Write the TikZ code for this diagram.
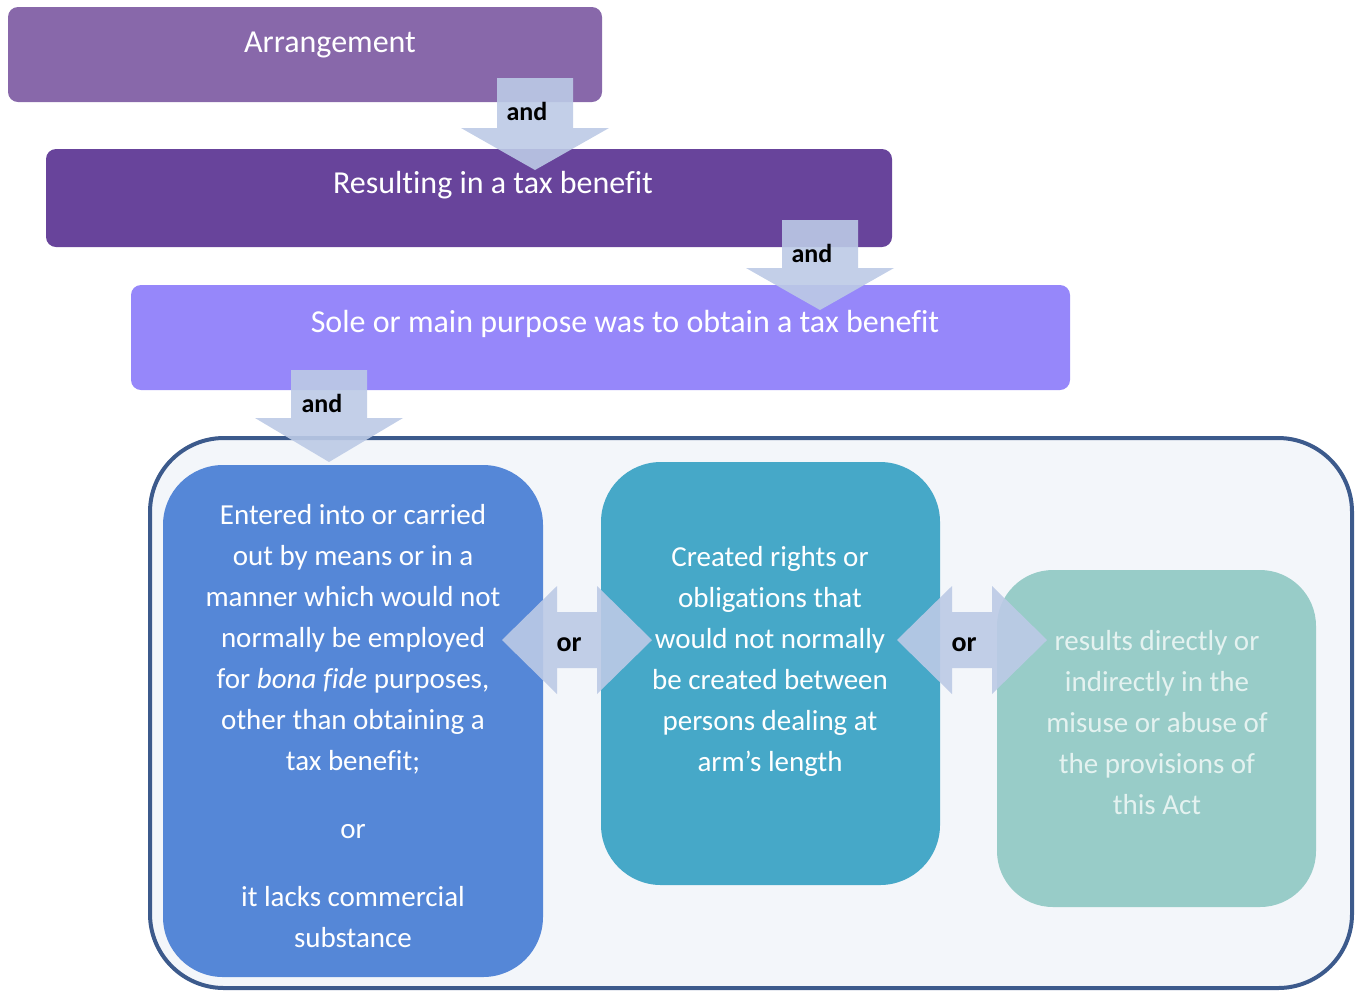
\documentclass[tikz,border=0pt]{standalone}
\usepackage{fontspec}
\setmainfont{Carlito}[Ligatures=CommonOff]

\definecolor{arrangecol}{RGB}{136,104,170}
\definecolor{resultcol}{RGB}{104,68,155}
\definecolor{solecol}{RGB}{150,135,250}
\definecolor{bluecol}{RGB}{85,135,215}
\definecolor{tealcol}{RGB}{70,168,200}
\definecolor{paletealcol}{RGB}{152,204,200}
\definecolor{arrowcol}{RGB}{188,202,230}
\definecolor{framecol}{RGB}{60,90,140}
\definecolor{framefill}{RGB}{243,246,250}

\begin{document}
\begin{tikzpicture}[x=1pt,y=-1pt,
    stepbar/.style={rounded corners=5pt, inner sep=0pt},
    option/.style={rounded corners=30pt, inner sep=0pt},
    title/.style={text=white, font=\fontsize{16}{19}\selectfont},
    body/.style={text=white, align=center, font=\fontsize{14.5}{20.5}\selectfont},
    link/.style={font=\bfseries\fontsize{13}{15}\selectfont},
    blockarrow/.style={fill=arrowcol, fill opacity=0.9},
    ]
    \useasboundingbox (0,0) rectangle (679,496);

    % the three steps
    \node[stepbar, fill=arrangecol, minimum width=297pt, minimum height=47.5pt] (arrangement) at (152.5,27.25) {};
    \node[title] (arrangementtxt) at (165,22.5) {Arrangement};
    \node[stepbar, fill=resultcol, minimum width=423pt, minimum height=49pt] (result) at (234.5,99) {};
    \node[title] (resulttxt) at (246.5,92.5) {Resulting in a tax benefit};
    \node[stepbar, fill=solecol, minimum width=469.5pt, minimum height=52.5pt] (sole) at (300.25,168.75) {};
    \node[title] (soletxt) at (312.5,162) {Sole or main purpose was to obtain a tax benefit};

    % frame round the three options
    \node[draw=framecol, line width=2pt, fill=framefill, rounded corners=37pt,
      minimum width=601pt, minimum height=275pt] (frame) at (375.5,356.5) {};

    \node[option, fill=bluecol, minimum width=190pt, minimum height=256pt] (manner) at (176.5,360.5) {};
    \node[body] (mannertxt) at (176.5,363) {Entered into or carried\\ out by means or in a\\ manner which would not\\
      normally be employed\\ for \emph{bona fide} purposes,\\ other than obtaining a\\ tax benefit;\\[13.5pt]
      or\\[13.5pt] it lacks commercial\\ substance};
    \node[option, fill=tealcol, minimum width=169.5pt, minimum height=211.5pt] (rights) at (385.25,336.75) {};
    \node[body] (rightstxt) at (385,330.5) {Created rights or\\ obligations that\\ would not normally\\
      be created between\\ persons dealing at\\ arm’s length};
    \node[option, rounded corners=28pt, fill=paletealcol, minimum width=159.5pt, minimum height=168.5pt] (misuse) at (578.25,369.25) {};
    \node[body, text={rgb,255:red,228;green,242;blue,240}] (misusetxt) at (578.5,361.5) {results directly or\\
      indirectly in the\\ misuse or abuse of\\ the provisions of\\ this Act};

    % and arrows
    \fill[blockarrow, shift={(267.5,0)}] (-19,39) -- (19,39) -- (19,64) -- (37,64) -- (0,85) -- (-37,64) -- (-19,64) -- cycle;
    \node[link] (and1) at (263.5,55.5) {and};
    \fill[blockarrow, shift={(410,0)}] (-19,110) -- (19,110) -- (19,134) -- (37,134) -- (0,155) -- (-37,134) -- (-19,134) -- cycle;
    \node[link] (and2) at (406,126.5) {and};
    \fill[blockarrow, shift={(164.5,0)}] (-19,185) -- (19,185) -- (19,209) -- (37,209) -- (0,231) -- (-37,209) -- (-19,209) -- cycle;
    \node[link] (and3) at (161,201.5) {and};

    % or arrows
    \fill[blockarrow, shift={(288.5,320)}] (-37.5,0) -- (-10,-27) -- (-10,-14) -- (10,-14) -- (10,-27) -- (37.5,0)
      -- (10,27) -- (10,14) -- (-10,14) -- (-10,27) -- cycle;
    \node[link, font=\bfseries\fontsize{14}{16}\selectfont] (or1) at (284.5,322.5) {or};
    \fill[blockarrow, shift={(486,320)}] (-37.5,0) -- (-10,-27) -- (-10,-14) -- (10,-14) -- (10,-27) -- (37.5,0)
      -- (10,27) -- (10,14) -- (-10,14) -- (-10,27) -- cycle;
    \node[link, font=\bfseries\fontsize{14}{16}\selectfont] (or2) at (482,322.5) {or};
\end{tikzpicture}
\end{document}
